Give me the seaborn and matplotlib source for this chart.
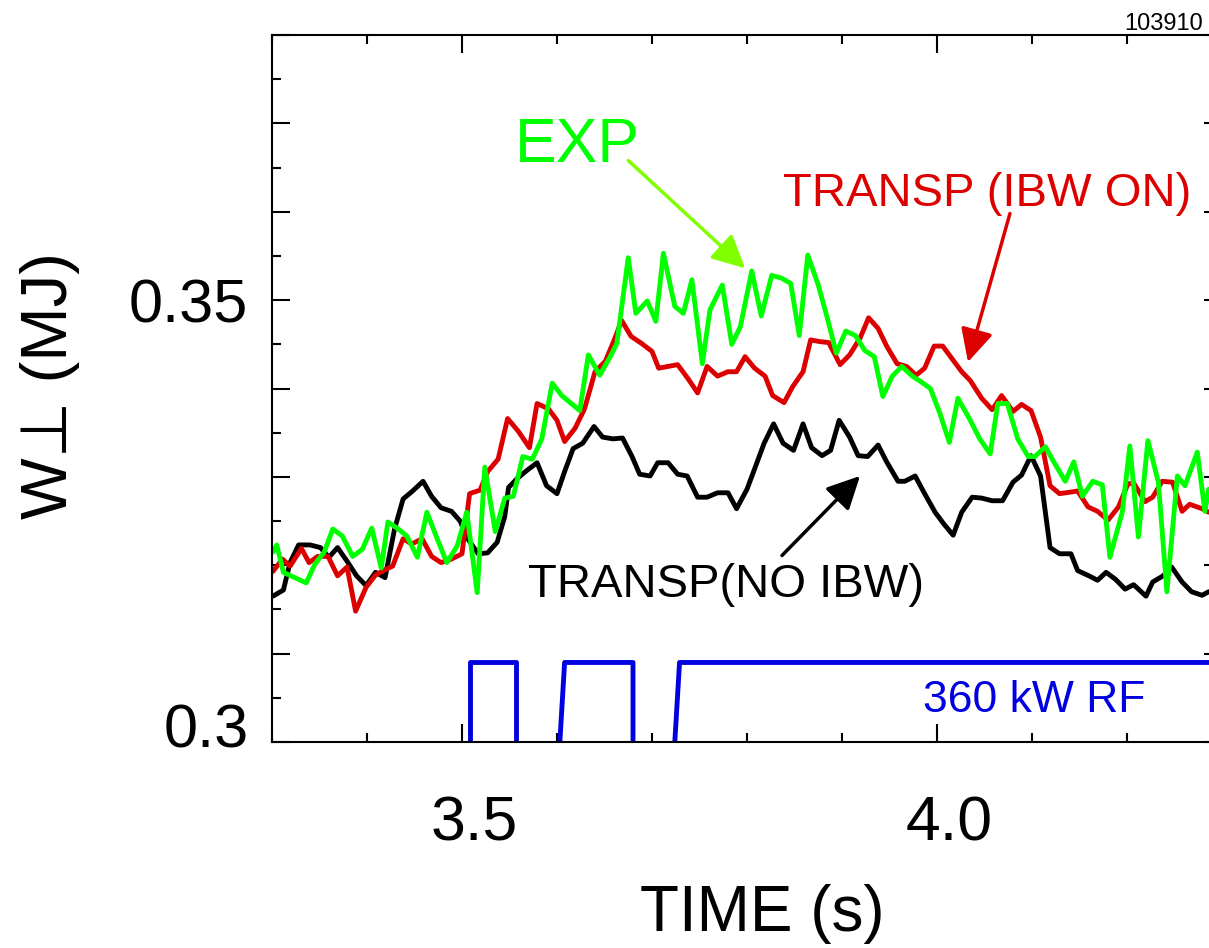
import numpy as np
import pandas as pd
import matplotlib
matplotlib.use("Agg")
import matplotlib.pyplot as plt
from matplotlib.ticker import FixedLocator, MultipleLocator, FuncFormatter
from matplotlib.transforms import ScaledTranslation
import seaborn as sns

# ---------------- data ----------------
black_t = [3.301, 3.312, 3.319, 3.328, 3.340, 3.351, 3.360, 3.369, 3.380, 3.389,
           3.399, 3.409, 3.419, 3.429, 3.438, 3.448, 3.459, 3.468, 3.478, 3.489,
           3.498, 3.506, 3.517, 3.527, 3.537, 3.545, 3.549, 3.558, 3.568, 3.579,
           3.589, 3.600, 3.608, 3.617, 3.627, 3.639, 3.648, 3.659, 3.669, 3.679,
           3.687, 3.698, 3.706, 3.717, 3.727, 3.737, 3.748, 3.758, 3.769, 3.780,
           3.789, 3.800, 3.808, 3.818, 3.828, 3.838, 3.849, 3.859, 3.868, 3.879,
           3.888, 3.897, 3.908, 3.917, 3.927, 3.938, 3.947, 3.959, 3.966, 3.977,
           3.987, 3.998, 4.007, 4.017, 4.026, 4.037, 4.047, 4.058, 4.069, 4.080,
           4.089, 4.099, 4.109, 4.119, 4.129, 4.141, 4.148, 4.160, 4.169, 4.178,
           4.188, 4.198, 4.207, 4.220, 4.227, 4.238, 4.247, 4.258, 4.268, 4.279,
           4.286]
black_w = [0.3165, 0.3172, 0.3203, 0.3223, 0.3223, 0.3220, 0.3209, 0.3220, 0.3203, 0.3188,
           0.3177, 0.3192, 0.3186, 0.3241, 0.3275, 0.3284, 0.3295, 0.3278, 0.3265, 0.3261,
           0.3250, 0.3230, 0.3213, 0.3214, 0.3226, 0.3255, 0.3288, 0.3298, 0.3307, 0.3316,
           0.3290, 0.3281, 0.3306, 0.3332, 0.3338, 0.3357, 0.3345, 0.3343, 0.3344, 0.3323,
           0.3303, 0.3301, 0.3316, 0.3316, 0.3303, 0.3301, 0.3277, 0.3277, 0.3282, 0.3282,
           0.3264, 0.3286, 0.3309, 0.3338, 0.3360, 0.3338, 0.3330, 0.3360, 0.3333, 0.3324,
           0.3330, 0.3364, 0.3345, 0.3324, 0.3323, 0.3336, 0.3317, 0.3295, 0.3295, 0.3301,
           0.3281, 0.3260, 0.3247, 0.3234, 0.3260, 0.3277, 0.3276, 0.3273, 0.3273, 0.3294,
           0.3302, 0.3324, 0.3301, 0.3220, 0.3213, 0.3213, 0.3194, 0.3188, 0.3183, 0.3192,
           0.3184, 0.3173, 0.3178, 0.3165, 0.3181, 0.3188, 0.3198, 0.3181, 0.3170, 0.3166,
           0.3170]

red_t = [3.301, 3.311, 3.319, 3.331, 3.339, 3.348, 3.359, 3.369, 3.379, 3.388,
         3.399, 3.409, 3.419, 3.427, 3.438, 3.447, 3.458, 3.468, 3.478, 3.489,
         3.500, 3.508, 3.519, 3.527, 3.538, 3.548, 3.559, 3.571, 3.579, 3.591,
         3.600, 3.608, 3.619, 3.629, 3.640, 3.651, 3.661, 3.668, 3.678, 3.689,
         3.700, 3.707, 3.717, 3.727, 3.738, 3.748, 3.758, 3.769, 3.780, 3.789,
         3.798, 3.808, 3.819, 3.827, 3.839, 3.848, 3.859, 3.867, 3.877, 3.886,
         3.898, 3.908, 3.919, 3.928, 3.938, 3.947, 3.958, 3.968, 3.978, 3.987,
         3.997, 4.006, 4.017, 4.026, 4.035, 4.047, 4.058, 4.068, 4.080, 4.089,
         4.099, 4.109, 4.119, 4.129, 4.142, 4.148, 4.159, 4.169, 4.180, 4.191,
         4.201, 4.207, 4.219, 4.227, 4.237, 4.248, 4.258, 4.266, 4.279, 4.286]
red_w = [0.3193, 0.3207, 0.3199, 0.3219, 0.3203, 0.3210, 0.3210, 0.3188, 0.3198, 0.3148,
         0.3175, 0.3189, 0.3195, 0.3199, 0.3230, 0.3224, 0.3230, 0.3210, 0.3203, 0.3207,
         0.3213, 0.3281, 0.3285, 0.3306, 0.3320, 0.3366, 0.3352, 0.3333, 0.3383, 0.3377,
         0.3364, 0.3340, 0.3355, 0.3377, 0.3419, 0.3431, 0.3457, 0.3477, 0.3459, 0.3451,
         0.3442, 0.3423, 0.3425, 0.3427, 0.3411, 0.3395, 0.3425, 0.3414, 0.3419, 0.3419,
         0.3436, 0.3423, 0.3414, 0.3392, 0.3384, 0.3402, 0.3419, 0.3455, 0.3453, 0.3452,
         0.3427, 0.3438, 0.3457, 0.3480, 0.3468, 0.3448, 0.3428, 0.3425, 0.3415, 0.3423,
         0.3448, 0.3448, 0.3432, 0.3419, 0.3409, 0.3389, 0.3376, 0.3392, 0.3374, 0.3382,
         0.3375, 0.3345, 0.3290, 0.3281, 0.3283, 0.3284, 0.3266, 0.3261, 0.3251, 0.3266,
         0.3292, 0.3293, 0.3272, 0.3277, 0.3295, 0.3294, 0.3261, 0.3269, 0.3264, 0.3260]

exp_t = [3.301, 3.305, 3.312, 3.324, 3.336, 3.345, 3.355, 3.364, 3.374, 3.385,
         3.395, 3.405, 3.415, 3.422, 3.433, 3.442, 3.453, 3.463, 3.475, 3.484,
         3.495, 3.505, 3.516, 3.524, 3.535, 3.545, 3.554, 3.564, 3.574, 3.584,
         3.595, 3.605, 3.624, 3.633, 3.645, 3.656, 3.663, 3.675, 3.683, 3.695,
         3.704, 3.712, 3.724, 3.733, 3.742, 3.753, 3.761, 3.774, 3.784, 3.793,
         3.805, 3.815, 3.826, 3.836, 3.846, 3.855, 3.864, 3.875, 3.884, 3.894,
         3.904, 3.914, 3.924, 3.934, 3.943, 3.953, 3.963, 3.974, 3.984, 3.993,
         4.003, 4.013, 4.022, 4.035, 4.045, 4.056, 4.064, 4.074, 4.085, 4.096,
         4.103, 4.114, 4.124, 4.135, 4.144, 4.153, 4.164, 4.174, 4.182, 4.195,
         4.203, 4.212, 4.222, 4.233, 4.242, 4.253, 4.261, 4.274, 4.282, 4.286]
exp_w = [0.3215, 0.3223, 0.3192, 0.3186, 0.3180, 0.3201, 0.3215, 0.3241, 0.3233, 0.3210,
         0.3218, 0.3242, 0.3197, 0.3249, 0.3241, 0.3233, 0.3209, 0.3260, 0.3227, 0.3203,
         0.3222, 0.3260, 0.3169, 0.3311, 0.3238, 0.3276, 0.3278, 0.3323, 0.3320, 0.3343,
         0.3406, 0.3392, 0.3375, 0.3438, 0.3415, 0.3436, 0.3451, 0.3548, 0.3485, 0.3499,
         0.3476, 0.3553, 0.3493, 0.3485, 0.3523, 0.3428, 0.3489, 0.3517, 0.3450, 0.3470,
         0.3533, 0.3482, 0.3528, 0.3525, 0.3519, 0.3460, 0.3551, 0.3517, 0.3482, 0.3440,
         0.3465, 0.3460, 0.3443, 0.3436, 0.3391, 0.3414, 0.3425, 0.3414, 0.3407, 0.3400,
         0.3372, 0.3339, 0.3389, 0.3364, 0.3343, 0.3326, 0.3383, 0.3383, 0.3343, 0.3323,
         0.3323, 0.3334, 0.3315, 0.3295, 0.3317, 0.3278, 0.3295, 0.3291, 0.3209, 0.3260,
         0.3335, 0.3232, 0.3341, 0.3294, 0.3170, 0.3301, 0.3290, 0.3328, 0.3261, 0.3286]

# RF power waveform (drawn on the W axis, on = 0.309, off = 0.300)
rf_t = [3.508, 3.508, 3.557, 3.557, 3.603, 3.608, 3.680, 3.680, 3.724, 3.729, 4.300]
rf_w = [0.300, 0.309, 0.309, 0.300, 0.300, 0.309, 0.309, 0.300, 0.300, 0.309, 0.309]
rf_pulse = [1, 1, 1, 1, 2, 2, 2, 2, 3, 3, 3]

series_names = ["TRANSP(NO IBW)", "TRANSP (IBW ON)", "EXP"]
series_colors = ["#000000", "#dd0000", "#00ff00"]
x_major = [3.5, 4.0]
y_labelled = [0.30, 0.35]

# ---------------- styling ----------------
sns.set_theme(style="white")
plt.rcParams["font.family"] = ["Liberation Sans", "DejaVu Sans"]
plt.rcParams["axes.unicode_minus"] = False
plt.rcParams["text.color"] = "black"
plt.rcParams["axes.labelcolor"] = "black"
plt.rcParams["xtick.color"] = "black"
plt.rcParams["ytick.color"] = "black"

fig = plt.figure(figsize=(12.09, 9.48), dpi=100)
ax = fig.add_axes([272 / 1209, (948 - 742) / 948, 950 / 1209, 707 / 948])

df = pd.concat([
    pd.DataFrame({"time": black_t, "w": black_w, "series": series_names[0]}),
    pd.DataFrame({"time": red_t, "w": red_w, "series": series_names[1]}),
    pd.DataFrame({"time": exp_t, "w": exp_w, "series": series_names[2]}),
], ignore_index=True)

sns.lineplot(data=df, x="time", y="w", hue="series", hue_order=series_names,
             palette=series_colors, estimator=None, sort=False, lw=3.5,
             legend=False, ax=ax)

rf_df = pd.DataFrame({"time": rf_t, "w": rf_w, "pulse": rf_pulse})
sns.lineplot(data=rf_df, x="time", y="w", units="pulse", estimator=None,
             sort=False, color="#0000e0", lw=3.5, legend=False, ax=ax)

ax.set_xlim(3.3, 4.3)
ax.set_ylim(0.30, 0.38)

for sp in ax.spines.values():
    sp.set_visible(True)
    sp.set_color("black")
    sp.set_linewidth(1.5)

ax.xaxis.set_major_locator(FixedLocator(x_major))
ax.xaxis.set_major_formatter(FuncFormatter(lambda v, p: f"{v:.1f}"))
ax.xaxis.set_minor_locator(MultipleLocator(0.1))
ax.yaxis.set_major_locator(MultipleLocator(0.01))
ax.yaxis.set_minor_locator(MultipleLocator(0.005))


def yfmt(v, p):
    for lab in y_labelled:
        if abs(v - lab) < 1e-6:
            return f"{lab:g}"
    return ""


ax.yaxis.set_major_formatter(FuncFormatter(yfmt))

ax.tick_params(which="both", direction="in", top=True, right=True,
               bottom=True, left=True, color="black", labelcolor="black", width=1.5)
ax.tick_params(which="major", length=13)
ax.tick_params(which="minor", length=6.5)
ax.tick_params(axis="x", which="major", labelsize=45, pad=38)
ax.tick_params(axis="y", which="major", labelsize=44, pad=17)

ax.set_xlabel("TIME (s)", fontsize=46, color="black")
ax.xaxis.set_label_coords(0.516, -0.201)
ax.set_ylabel("W\u22a5 (MJ)", fontsize=47, color="black")
ax.yaxis.set_label_coords(-0.2016, 0.5035)

# tick-label offsets as in the reference
dx = ScaledTranslation(12 / 100, 0, fig.dpi_scale_trans)
for lab in ax.xaxis.get_majorticklabels():
    lab.set_transform(lab.get_transform() + dx)
yt = ax.get_yticks()
for v, lab in zip(yt, ax.yaxis.get_majorticklabels()):
    if abs(v - 0.30) < 1e-6:
        lab.set_transform(lab.get_transform() + ScaledTranslation(0, 17 / 100, fig.dpi_scale_trans))

# annotations
ax.text(3.556, 0.3656, "EXP", color="#00ff00", fontsize=45, ha="left", va="baseline")
ax.annotate("", xy=(3.798, 0.3536), xytext=(3.675, 0.3658),
            arrowprops=dict(arrowstyle="-|>", color="#80ff00", lw=2.5,
                            mutation_scale=50, shrinkA=0, shrinkB=0))

ax.text(3.838, 0.3607, "TRANSP (IBW ON)", color="#dd0000", fontsize=34,
        ha="left", va="baseline")
ax.annotate("", xy=(4.0326, 0.3430), xytext=(4.0768, 0.3598),
            arrowprops=dict(arrowstyle="-|>", color="#dd0000", lw=2.5,
                            mutation_scale=50, shrinkA=0, shrinkB=0))

ax.text(3.5695, 0.3164, "TRANSP(NO IBW)", color="black", fontsize=34,
        ha="left", va="baseline")
ax.annotate("", xy=(3.9189, 0.3301), xytext=(3.8368, 0.3211),
            arrowprops=dict(arrowstyle="-|>", color="black", lw=2.5,
                            mutation_scale=50, shrinkA=0, shrinkB=0))

ax.text(3.9853, 0.3034, "360 kW RF", color="#0000e0", fontsize=32,
        ha="left", va="baseline")

fig.text(1203 / 1209, 1 - 30 / 948, "103910", fontsize=17, ha="right",
         va="baseline", color="black")

fig.savefig("out.png", dpi=100, facecolor="white")
